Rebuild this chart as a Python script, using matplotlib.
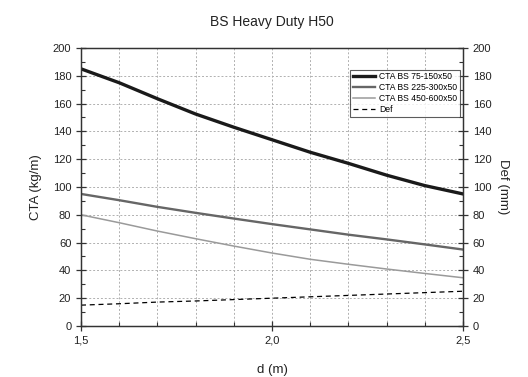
import matplotlib
matplotlib.use("Agg")
import matplotlib.pyplot as plt
from matplotlib.ticker import MultipleLocator, FuncFormatter

plt.rcParams['font.family'] = ['Liberation Sans', 'DejaVu Sans']

d = [1.5, 1.6, 1.7, 1.8, 1.9, 2.0, 2.1, 2.2, 2.3, 2.4, 2.5]
cta_75_150 = [185, 175, 163.5, 152.5, 143, 134, 125, 117, 108.5, 101, 95]
cta_225_300 = [95, 90.5, 85.7, 81.4, 77.3, 73.3, 69.5, 65.7, 62.3, 58.7, 55]
cta_450_600 = [80, 74.3, 68.3, 62.8, 57.5, 52.5, 48, 44.4, 41, 37.8, 34.7]
deflection = [15, 16, 17.2, 18, 19, 20, 21, 22, 23, 24, 25]

labels = ["CTA BS 75-150x50", "CTA BS 225-300x50", "CTA BS 450-600x50", "Def"]

fig = plt.figure(figsize=(5.28, 3.77), dpi=100)
ax = fig.add_axes([0.1534, 0.1353, 0.7235, 0.7374])
ax2 = ax.twinx()

l1, = ax.plot(d, cta_75_150, color='#1a1a1a', lw=2.4, label=labels[0], solid_joinstyle='round')
l2, = ax.plot(d, cta_225_300, color='#666666', lw=1.7, label=labels[1], solid_joinstyle='round')
l3, = ax.plot(d, cta_450_600, color='#9a9a9a', lw=1.1, label=labels[2], solid_joinstyle='round')
l4, = ax2.plot(d, deflection, color='black', lw=0.9, ls=(0, (4, 3)), label=labels[3])

for a in (ax, ax2):
    a.set_xlim(1.5, 2.5)
    a.set_ylim(0, 200)
    a.yaxis.set_major_locator(MultipleLocator(20))
    a.yaxis.set_minor_locator(MultipleLocator(10))
    for s in a.spines.values():
        s.set_color('#333333')
        s.set_linewidth(0.9)

ax.xaxis.set_major_locator(MultipleLocator(0.5))
ax.xaxis.set_minor_locator(MultipleLocator(0.1))
comma = FuncFormatter(lambda v, p: f"{v:.1f}".replace('.', ','))
ax.xaxis.set_major_formatter(comma)

ax.tick_params(axis='both', which='major', direction='inout', length=7, width=0.9,
               labelsize=8, colors='#333333', labelcolor='#222222')
ax.tick_params(axis='both', which='minor', direction='in', length=3, width=0.8, colors='#333333')
ax2.tick_params(axis='y', which='major', direction='inout', length=7, width=0.9,
                labelsize=8, colors='#333333', labelcolor='#222222')
ax2.tick_params(axis='y', which='minor', direction='in', length=3, width=0.8, colors='#333333')

ax.grid(True, which='major', axis='y', ls=(0, (2, 2)), color='#b0b0b0', lw=0.7)
ax.grid(True, which='minor', axis='x', ls=(0, (2, 2)), color='#b0b0b0', lw=0.7)
ax.grid(True, which='major', axis='x', ls=(0, (2, 2)), color='#b0b0b0', lw=0.7)
ax.set_axisbelow(True)

ax.set_xlabel("d (m)", fontsize=9.5, color='#222222', labelpad=13)
ax.set_ylabel("CTA (kg/m)", fontsize=9.5, color='#222222', labelpad=8)
ax2.set_ylabel("Def (mm)", fontsize=9.5, color='#222222', rotation=270, labelpad=13)
ax.set_title("BS Heavy Duty H50", fontsize=10, color='#222222', pad=16)

leg = ax2.legend(handles=[l1, l2, l3, l4], loc='upper right', bbox_to_anchor=(0.992, 0.922),
                 fontsize=6.2, frameon=True, fancybox=False, edgecolor='#333333',
                 handlelength=2.6, handletextpad=0.5, borderpad=0.3, labelspacing=0.22,
                 borderaxespad=0.0)
leg.get_frame().set_linewidth(0.8)

fig.savefig("out.png", dpi=100)
